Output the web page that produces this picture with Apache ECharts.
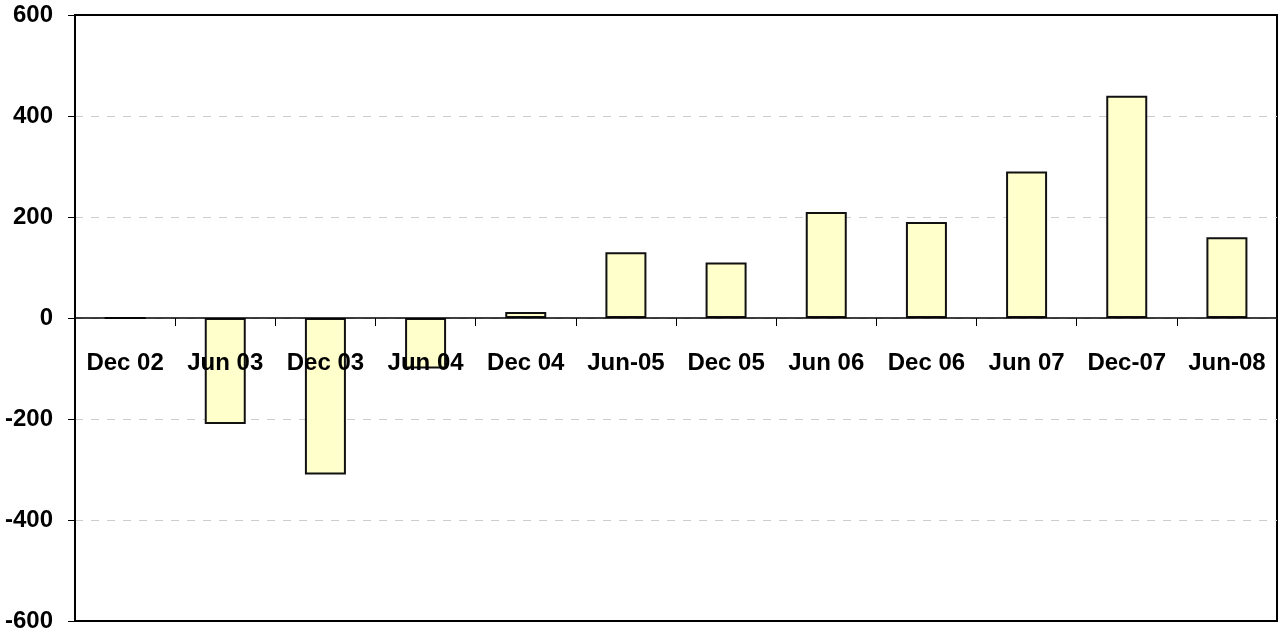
<!DOCTYPE html>
<html>
<head>
<meta charset="utf-8">
<script src="https://cdn.jsdelivr.net/npm/echarts@6/dist/echarts.min.js"></script>
<style>
html, body { margin: 0; padding: 0; background: #fff; }
#chart { width: 1279px; height: 637px; }
</style>
</head>
<body>
<div id="chart"></div>
<script>
var periods = ['Dec 02', 'Jun 03', 'Dec 03', 'Jun 04', 'Dec 04', 'Jun-05', 'Dec 05', 'Jun 06', 'Dec 06', 'Jun 07', 'Dec-07', 'Jun-08'];
var values = [0, -210, -310, -100, 12, 130, 110, 210, 190, 290, 440, 160];
var yTicks = [-600, -400, -200, 0, 200, 400, 600];

var chart = echarts.init(document.getElementById('chart'));

var labelFont = {
	color: '#000',
	fontFamily: 'Liberation Sans, Arial, sans-serif',
	fontWeight: 'bold',
	fontSize: 24
};

// grid is 15..621 px tall, zero sits in the middle -> labels axis pushed up
var gridTop = 15, gridBottom = 16, chartH = 637;
var zeroOffset = -((chartH - gridTop - gridBottom) / 2);

var option = {
	animation: false,
	grid: {
		left: 75,
		right: 2,
		top: gridTop,
		bottom: gridBottom,
		containLabel: false,
		outerBoundsMode: 'none',
		show: true,
		borderColor: '#000',
		borderWidth: 2
	},
	xAxis: [{
		type: 'category',
		data: periods,
		z: 5,
		axisLine: { onZero: true, lineStyle: { color: '#000', width: 1.5 } },
		axisTick: { show: true, inside: false, length: 8, lineStyle: { color: '#000', width: 1 } },
		axisLabel: { show: false },
		splitLine: { show: false }
	}, {
		type: 'category',
		data: periods,
		position: 'bottom',
		offset: zeroOffset,
		z: 10,
		axisLine: { show: false, onZero: false },
		axisTick: { show: false },
		axisLabel: Object.assign({ margin: 33, interval: 0 }, labelFont),
		splitLine: { show: false }
	}],
	yAxis: {
		type: 'value',
		min: yTicks[0],
		max: yTicks[yTicks.length - 1],
		interval: 200,
		axisLine: { show: true, lineStyle: { color: '#000', width: 2 } },
		axisTick: { show: true, length: 7, lineStyle: { color: '#000', width: 1 } },
		axisLabel: Object.assign({ margin: 22 }, labelFont),
		splitLine: {
			show: true,
			showMinLine: false,
			showMaxLine: false,
			lineStyle: { color: '#cccccc', type: [8, 8], width: 1 }
		}
	},
	series: [{
		type: 'bar',
		data: values,
		barWidth: 41,
		z: 2,
		itemStyle: {
			color: '#ffffcc',
			borderColor: '#111',
			borderWidth: 2
		}
	}]
};

chart.setOption(option);
</script>
</body>
</html>
